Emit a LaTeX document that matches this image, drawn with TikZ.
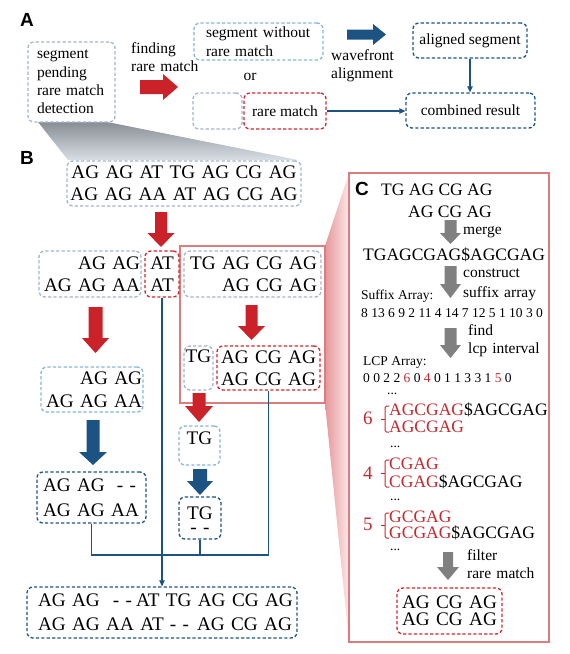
\documentclass[tikz,border=0pt]{standalone}
\usepackage{fontspec}
\setmainfont{Liberation Serif}
\newfontfamily\labfont{Liberation Sans}
\usetikzlibrary{arrows.meta}

\definecolor{grayb}{HTML}{A2B5CA}
\definecolor{lightb}{HTML}{85B5DC}
\definecolor{darkb}{HTML}{1D5383}
\definecolor{redd}{HTML}{D0262D}
\definecolor{redarrow}{HTML}{CB2229}
\definecolor{redtxt}{HTML}{C42A2F}
\definecolor{frmred}{HTML}{DB7C7E}
\definecolor{grayarr}{HTML}{808080}
\definecolor{fungtop}{HTML}{898E95}
\definecolor{fungbot}{HTML}{D8DEE5}
\definecolor{funrl}{HTML}{E69698}
\definecolor{funrr}{HTML}{FBE8E9}

\newcommand{\szA}{\fontsize{15.5}{18.4}\selectfont}
\newcommand{\szB}{\fontsize{19.2}{22.5}\selectfont}
\newcommand{\szC}{\fontsize{17.5}{18}\selectfont}
\newcommand{\szS}{\fontsize{13.5}{16}\selectfont}
\newcommand{\szN}{\fontsize{19}{19}\selectfont}
\newcommand{\szR}{\fontsize{19.2}{17}\selectfont}
\newcommand{\szL}{\labfont\bfseries\fontsize{19}{19}\selectfont}

% vertical block arrow: colour, x centre, y top, y tip, shaft half width, head half width, head length
\newcommand{\vblk}[7]{\fill[#1] (#2-#5,#3) -- (#2+#5,#3) -- (#2+#5,#4-#7) -- (#2+#6,#4-#7) -- (#2,#4) -- (#2-#6,#4-#7) -- (#2-#5,#4-#7) -- cycle;}
% horizontal block arrow: colour, y centre, x left, x tip, shaft half width, head half width, head length
\newcommand{\hblk}[7]{\fill[#1] (#3,#2-#5) -- (#4-#7,#2-#5) -- (#4-#7,#2-#6) -- (#4,#2) -- (#4-#7,#2+#6) -- (#4-#7,#2+#5) -- (#3,#2+#5) -- cycle;}
% bracket: top y, middle y, bottom y
\newcommand{\brk}[3]{\draw[redtxt, line width=1pt, rounded corners=1.5pt] (389,#1) -- (385,#1) -- (385,#3) -- (389,#3); \draw[redtxt, line width=1pt] (381,#2) -- (385,#2);}

\tikzset{
  dbox/.style={draw, rounded corners=6pt, line width=1.3pt, dash pattern=on 3.2pt off 2.2pt, fill=white, inner sep=0pt},
  gbox/.style={dbox, draw=grayb},
  lbox/.style={dbox, draw=lightb},
  bbox/.style={dbox, draw=darkb},
  rbox/.style={dbox, draw=redd},
  framebox/.style={draw=frmred, line width=1.3pt, inner sep=0pt},
  conn/.style={draw=darkb, line width=1.2pt},
  tip/.style={-{Triangle[length=6pt,width=5.5pt]}},
  txt/.style={inner sep=0pt, anchor=base west},
  lab/.style={inner sep=0pt, font=\szL},
}

\begin{document}
\begin{tikzpicture}[x=1pt,y=-1pt]
\useasboundingbox (0,0) rectangle (570,654);

% funnels
\shade[top color=fungtop, bottom color=fungbot] (38,122) -- (107,122) -- (298,160) -- (68,160) -- cycle;
\shade[left color=funrl, right color=funrr] (325,246) -- (349,173) -- (349,642) -- (325,403) -- cycle;

% ---------------- Panel A
\node[lab] (labA) at (27,20) {A};
\node[gbox, minimum width=87pt, minimum height=80pt, text width=69pt, inner xsep=9pt, align=left, font=\szA] (pend) at (71.5,82) {segment\\pending\\\mbox{rare match}\\detection};
\node[txt, text width=80pt, align=left, font=\szA] (find) at (131,53) {finding\\rare match};
\hblk{redarrow}{87}{140}{178}{7}{13}{15}
\node[lbox, minimum width=129pt, minimum height=37pt, text width=105pt, inner xsep=12pt, align=left, font=\szA] (wout) at (258.5,41.5) {\mbox{segment without}\\rare match};
\node[inner sep=0pt, font=\szA] (or) at (250,77) {or};
\node[gbox, minimum width=49pt, minimum height=36pt] (emp) at (217.5,111) {};
\node[rbox, minimum width=82pt, minimum height=36pt, font=\szA] (rare) at (285,111) {rare match};
\hblk{darkb}{34.5}{347}{386}{5}{10.5}{13}
\node[txt, text width=80pt, align=left, font=\szA] (wave) at (331,60) {wavefront\\alignment};
\node[bbox, minimum width=114pt, minimum height=35pt, font=\szA] (alig) at (470,40.5) {aligned segment};
\node[bbox, minimum width=129pt, minimum height=35pt, font=\szA] (comb) at (470.5,110.5) {combined result};
\draw[conn, tip] (alig.south) -- (alig.south |- comb.north);
\draw[conn, tip] (rare.east) -- (rare.east -| comb.west);

% ---------------- Panel B
\node[lab] (labB) at (27,158) {B};
\node[gbox, minimum width=234pt, minimum height=45pt, text width=228pt, align=center, font=\szB] (top) at (184,183.5) {\mbox{AG AG AT TG AG CG AG}\\[-0.8pt]\mbox{AG AG AA AT AG CG AG}};
\vblk{redarrow}{161}{212}{247}{6}{13.5}{14}

\node[framebox, minimum width=145pt, minimum height=157pt] (frameB) at (252.5,324.5) {};

\node[gbox, minimum width=102pt, minimum height=46pt, text width=100pt, inner xsep=1pt, align=right, font=\szB] (l1) at (90,274) {\mbox{AG AG}\\\mbox{AG AG AA}};
\node[rbox, minimum width=34pt, minimum height=46pt, text width=30pt, align=center, font=\szB] (at) at (162,274) {AT\\AT};
\node[gbox, minimum width=137pt, minimum height=46pt, text width=129pt, inner xsep=4pt, align=right, font=\szB] (r1) at (252.5,274) {\mbox{TG AG CG AG}\\\mbox{AG CG AG}};

\vblk{redarrow}{251.5}{305}{340}{6}{13.5}{14}
\node[gbox, minimum width=29pt, minimum height=44pt, text depth=23pt, font=\szB] (tg1) at (198.5,368) {TG};
\node[rbox, minimum width=103pt, minimum height=44pt, text width=100pt, align=center, font=\szB] (rm1) at (268.5,368) {\mbox{AG CG AG}\\[-0.5pt]\mbox{AG CG AG}};

\vblk{redarrow}{95.5}{307}{353}{7}{13.5}{15}
\node[lbox, minimum width=102pt, minimum height=45pt, text width=100pt, inner xsep=1pt, align=right, font=\szB] (l2) at (92,389.5) {\mbox{AG AG}\\\mbox{AG AG AA}};
\vblk{darkb}{93}{420}{465}{6.5}{14}{13}
\node[bbox, minimum width=109pt, minimum height=51pt, text width=97pt, inner xsep=6pt, align=left, font=\szB] (l3) at (91.5,497.5) {\mbox{AG AG\hspace{12pt}- -}\\[3pt]\mbox{AG AG AA}};

\vblk{redarrow}{199}{393}{422}{6.5}{14}{16}
\node[lbox, minimum width=41pt, minimum height=39pt, text depth=14pt, font=\szB] (tg2) at (199.5,445.5) {TG};
\vblk{darkb}{200}{469}{495}{7}{13}{14}
\node[bbox, minimum width=42pt, minimum height=42pt, text width=40pt, text depth=9pt, align=center, font=\szB] (tg3) at (200,518) {TG\\[-8.5pt]- -};

\node[bbox, minimum width=270pt, minimum height=51pt, text width=248pt, inner xsep=11pt, align=left, font=\szB] (fin) at (162,612.5) {\mbox{AG AG\hspace{13pt}- -\hspace{4pt}AT TG AG CG AG}\\[1.5pt]\mbox{AG AG AA AT\hspace{6pt}- -\hspace{8pt}AG CG AG}};

\coordinate (bus) at (0,555);
\draw[conn] (l3.south) -- (l3.south |- bus) -- (rm1.south |- bus) -- (rm1.south);
\draw[conn] (tg3.south) -- (tg3.south |- bus);
\draw[conn, tip] (at.south) -- (at.south |- fin.north);

% ---------------- Panel C
\node[framebox, fill=white, minimum width=200pt, minimum height=469pt] (frameC) at (449,407.5) {};
\node[lab] (labC) at (362,189) {C};
\node[txt, font=\szC] (c1) at (381,195) {TG AG CG AG};
\node[txt, font=\szC] (c2) at (408,217) {AG CG AG};
\vblk{grayarr}{450.5}{220}{244}{6}{10.5}{11}
\node[txt, font=\szA] (merge) at (463,234) {merge};
\node[txt, font=\szC] (c3) at (363,260) {TGAGCGAG\$AGCGAG};
\vblk{grayarr}{450.5}{266}{298}{6}{10.5}{14}
\node[txt, font=\szA, text width=90pt, align=left] (cons) at (463,277) {construct\\[1.6pt]suffix array};
\node[txt, font=\szS] (sal) at (361,299) {Suffix Array:};
\node[txt, font=\szS] (sa) at (361,317) {8 13 6 9 2 11 4 14 7 12 5 1 10 3 0};
\vblk{grayarr}{450.5}{328}{358}{6}{10.5}{13}
\node[txt, font=\szA, text width=90pt, align=left] (fnd) at (468,335) {find\\lcp interval};
\node[txt, font=\szS] (lcpl) at (363,365) {LCP Array:};
\node[txt, font=\szS] (lcp) at (363,382) {0 0 2 2 \textcolor{redtxt}{6} 0 \textcolor{redtxt}{4} 0 1 1 3 3 1 \textcolor{redtxt}{5} 0};
\node[txt, font=\szS] (d1) at (387,394) {...};

\node[txt, font=\szN, text=redtxt] (n6) at (363,424) {6};
\brk{406}{419}{432}
\node[txt, font=\szC] (s6a) at (389,415) {\textcolor{redtxt}{AGCGAG}\$AGCGAG};
\node[txt, font=\szC, text=redtxt] (s6b) at (389,432) {AGCGAG};
\node[txt, font=\szS] (d2) at (390,447) {...};

\node[txt, font=\szN, text=redtxt] (n4) at (363,479) {4};
\brk{460}{473}{487}
\node[txt, font=\szC, text=redtxt] (s4a) at (389,469) {CGAG};
\node[txt, font=\szC] (s4b) at (389,487) {\textcolor{redtxt}{CGAG}\$AGCGAG};
\node[txt, font=\szS] (d3) at (390,500) {...};

\node[txt, font=\szN, text=redtxt] (n5) at (363,530) {5};
\brk{513}{525}{538}
\node[txt, font=\szC, text=redtxt] (s5a) at (389,522) {GCGAG};
\node[txt, font=\szC] (s5b) at (389,538) {\textcolor{redtxt}{GCGAG}\$AGCGAG};
\node[txt, font=\szS] (d4) at (390,550) {...};

\vblk{grayarr}{448}{552}{580}{5}{11}{13}
\node[txt, font=\szA, text width=90pt, align=left] (filt) at (467,560) {filter\\rare match};
\node[rbox, minimum width=105pt, minimum height=46pt, text width=100pt, align=center, font=\szR] (rm2) at (449.5,611) {\mbox{AG CG AG}\\\mbox{AG CG AG}};
\end{tikzpicture}
\end{document}
